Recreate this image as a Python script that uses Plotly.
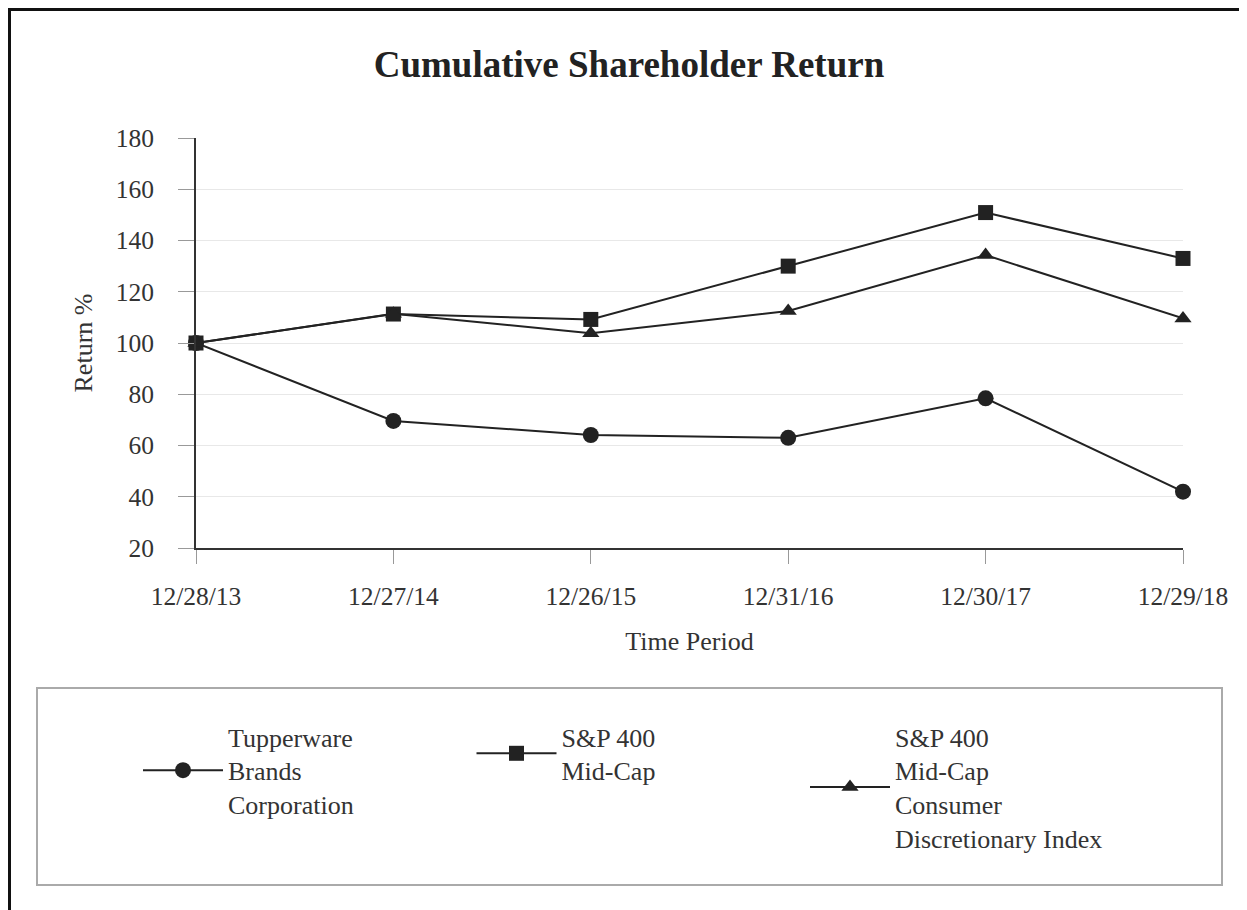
import plotly.graph_objects as go

periods = ["12/28/13", "12/27/14", "12/26/15", "12/31/16", "12/30/17", "12/29/18"]
tupperware = [100, 69.6, 64.1, 63.0, 78.4, 42.0]
sp400_midcap = [100, 111.3, 109.2, 130.0, 150.9, 133.0]
sp400_cons_disc = [100, 111.4, 103.8, 112.5, 134.3, 109.6]

names = ["Tupperware<br>Brands<br>Corporation",
         "S&P 400<br>Mid-Cap",
         "S&P 400<br>Mid-Cap<br>Consumer<br>Discretionary Index"]
symbols = ["circle", "square", "triangle-up"]
marker_sizes = [16, 15, 15]
series = [tupperware, sp400_midcap, sp400_cons_disc]

FONT = "Liberation Serif, Times New Roman, serif"
TXT = "#333333"
LINE = "#222222"

# page body has an 8px margin; work in reference pixel coords and shift
OFF = 8
W, H = 1247 - OFF, 910 - OFF
L, R, T, B = 196, 1183, 138, 548  # plot area in reference pixels


def px_x(p):
    return (p - L) / (R - L)


def px_y(p):
    return (B - p) / (B - T)


def cx(p):
    return (p - OFF) / W


def cy(p):
    return 1 - (p - OFF) / H


fig = go.Figure()
xs = list(range(len(periods)))
for nm, sym, ms, ys in zip(names, symbols, marker_sizes, series):
    fig.add_trace(go.Scatter(
        x=xs, y=ys, name=nm, mode="lines+markers",
        line=dict(color=LINE, width=2),
        marker=dict(symbol=sym, size=ms, color=LINE),
        cliponaxis=False,
    ))

fig.update_layout(
    width=W, height=H,
    margin=dict(l=L - OFF, r=W - (R - OFF), t=T - OFF, b=H - (B - OFF), pad=0,
                autoexpand=False),
    paper_bgcolor="white", plot_bgcolor="white",
    font=dict(family=FONT, color=TXT, size=26),
    title=dict(text="Cumulative Shareholder Return", x=cx(629), xanchor="center",
               y=cy(64), yanchor="middle",
               font=dict(family=FONT, size=37, color="#222222", weight="bold")),
    xaxis=dict(
        tickmode="array", tickvals=xs, ticktext=periods, range=[0, len(periods) - 1],
        showgrid=False, zeroline=False, showline=True, linecolor="#333333", linewidth=2,
        ticks="outside", ticklen=14, tickcolor="#999999", tickwidth=1,
        ticklabelstandoff=10, tickfont=dict(size=25.5, color=TXT),
        title=dict(text="Time Period", standoff=22, font=dict(size=26, color=TXT)),
    ),
    yaxis=dict(
        range=[20, 180], tickmode="array", tickvals=list(range(20, 181, 20)),
        showgrid=True, gridcolor="#e8e8e8", gridwidth=1, zeroline=False,
        showline=True, linecolor="#333333", linewidth=2,
        ticks="outside", ticklen=16, tickcolor="#999999", tickwidth=1,
        ticklabelstandoff=19, tickfont=dict(size=25.5, color=TXT),
        title=dict(text="Return %", standoff=16, font=dict(size=26, color=TXT)),
    ),
    showlegend=True,
    legend=dict(
        orientation="h", xref="paper", yref="paper",
        x=px_x(138), xanchor="left", y=px_y(713), yanchor="top",
        bgcolor="rgba(0,0,0,0)", borderwidth=0,
        entrywidth=238.5, entrywidthmode="pixels", itemwidth=80,
        valign="middle", font=dict(size=26, color=TXT, family=FONT),
        traceorder="normal",
    ),
    shapes=[
        dict(type="rect", xref="paper", yref="paper",
             x0=px_x(37), x1=px_x(1222), y0=px_y(688), y1=px_y(885),
             line=dict(color="#aaaaaa", width=2), fillcolor="rgba(0,0,0,0)", layer="below"),
        dict(type="line", xref="paper", yref="paper",
             x0=px_x(9.5), x1=px_x(9.5), y0=px_y(8), y1=px_y(915),
             line=dict(color="#111111", width=3)),
        dict(type="line", xref="paper", yref="paper",
             x0=px_x(8), x1=px_x(1250), y0=px_y(9.5), y1=px_y(9.5),
             line=dict(color="#111111", width=3)),
    ],
)

fig.write_html("out.html")
